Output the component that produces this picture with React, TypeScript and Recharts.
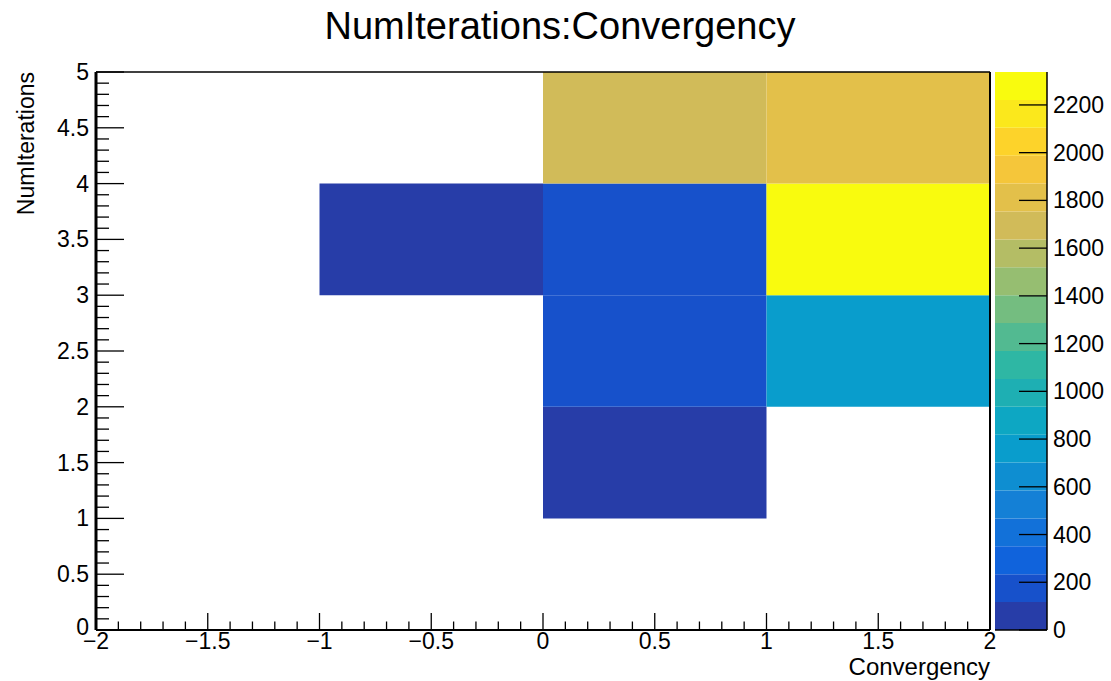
import React from "react";
import {
  ComposedChart,
  XAxis,
  YAxis,
  ReferenceArea,
  ReferenceLine,
  Scatter,
  Label,
} from "recharts";

// ---- data ----
const cellXLow = [0, -1, 0, 0, 0, 1, 1, 1];
const cellYLow = [1, 3, 2, 3, 4, 2, 3, 4];
const cellCounts = [45, 60, 185, 195, 1700, 770, 2338, 1810];
const binWidth = 1;

const zMax = 2338;
const paletteTicks = [0, 200, 400, 600, 800, 1000, 1200, 1400, 1600, 1800, 2000, 2200];
const paletteColors = [
  "#273DA8", "#1751CB", "#1063DC", "#1271D9", "#1480D6",
  "#0E8ED1", "#099DCC", "#0DA7C3", "#1EAFB3", "#2EB7A4",
  "#52BA91", "#74BD80", "#96BE71", "#B4BD65", "#D1BB59",
  "#E3C04A", "#F5C63A", "#FDD32A", "#FBE81C", "#F9FB0E",
];

const xTickTenths = Array.from({ length: 41 }, (_, i) => (i - 20) / 10);
const yTickTenths = Array.from({ length: 51 }, (_, i) => i / 10);

const FONT = "'Liberation Sans', Arial, Helvetica, sans-serif";
const W = 1111;
const H = 681;

const cells = cellXLow.map((x, i) => ({
  x0: x,
  x1: x + binWidth,
  y0: cellYLow[i],
  y1: cellYLow[i] + binWidth,
  cx: x + binWidth / 2,
  cy: cellYLow[i] + binWidth / 2,
  z: cellCounts[i],
}));

const bands = paletteColors.map((col, i) => ({
  px: 0.5,
  lo: (i * zMax) / paletteColors.length,
  hi: ((i + 1) * zMax) / paletteColors.length,
  mid: ((i + 0.5) * zMax) / paletteColors.length,
  col,
}));

const levelColor = (z: number) => {
  const n = paletteColors.length;
  const lvl = Math.min(n - 1, Math.floor((z / zMax) * n));
  return paletteColors[lvl];
};

const fmt = (v: number) => {
  const r = Math.round(v * 10) / 10;
  const s = String(Math.abs(r));
  return r < 0 ? "\u2212" + s : s;
};

const isMajor = (v: number) => Math.round(v * 10) % 5 === 0;

const XTick = (props: any) => {
  const { x, y, payload } = props;
  const v = payload.value as number;
  const major = isMajor(v);
  return (
    <g>
      <line x1={x} x2={x} y1={y} y2={y - (major ? 17 : 8.5)} stroke="#000" strokeWidth={1.3} />
      {major && (
        <text x={x} y={y + 19} textAnchor="middle" fontSize={23} fontFamily={FONT} fill="#000">
          {fmt(v)}
        </text>
      )}
    </g>
  );
};

const YTick = (props: any) => {
  const { x, y, payload } = props;
  const v = payload.value as number;
  const major = isMajor(v);
  return (
    <g>
      <line x1={x} x2={x + (major ? 28 : 13)} y1={y} y2={y} stroke="#000" strokeWidth={1.3} />
      {major && (
        <text x={x - 7} y={y + (v === 0 ? 5 : 8)} textAnchor="end" fontSize={23} fontFamily={FONT} fill="#000">
          {fmt(v)}
        </text>
      )}
    </g>
  );
};

const PTick = (props: any) => {
  const { x, y, payload } = props;
  return (
    <g>
      <line x1={x - 28} x2={x} y1={y} y2={y} stroke="#000" strokeWidth={1.3} />
      <text x={x + 6} y={y + 8} textAnchor="start" fontSize={23} fontFamily={FONT} fill="#000">
        {payload.value}
      </text>
    </g>
  );
};

export default function App() {
  return (
    <div style={{ position: "absolute", left: 0, top: 0, width: W, height: H, background: "#fff" }}>
      <div
        style={{
          position: "absolute",
          left: 0,
          top: 7,
          width: 1120,
          textAlign: "center",
          fontFamily: FONT,
          fontSize: 38,
          lineHeight: "38px",
          color: "#000",
          whiteSpace: "nowrap",
        }}
      >
        NumIterations:Convergency
      </div>
      <div style={{ position: "absolute", left: 0, top: 0 }}>
        <ComposedChart width={W} height={H} margin={{ top: 72, right: 121, left: 0, bottom: 0 }}>
          <XAxis
            type="number"
            dataKey="cx"
            domain={[-2, 2]}
            allowDataOverflow
            ticks={xTickTenths}
            interval={0}
            tickSize={0}
            tickMargin={0}
            tickLine={false}
            tick={<XTick />}
            axisLine={{ stroke: "#000", strokeWidth: 2 }}
            height={51}
          >
            <Label
              content={(p: any) => {
                const vb = p.viewBox;
                return (
                  <text x={vb.x + vb.width} y={675} textAnchor="end" fontSize={24} fontFamily={FONT} fill="#000">
                    Convergency
                  </text>
                );
              }}
            />
          </XAxis>
          <YAxis
            type="number"
            dataKey="cy"
            domain={[0, 5]}
            allowDataOverflow
            ticks={yTickTenths}
            interval={0}
            tickSize={0}
            tickMargin={0}
            tickLine={false}
            tick={<YTick />}
            axisLine={{ stroke: "#000", strokeWidth: 3 }}
            width={96}
          >
            <Label
              content={(p: any) => {
                const vb = p.viewBox;
                return (
                  <text
                    x={34}
                    y={vb.y}
                    transform={`rotate(-90, 34, ${vb.y})`}
                    textAnchor="end"
                    fontSize={23}
                    fontFamily={FONT}
                    fill="#000"
                  >
                    NumIterations
                  </text>
                );
              }}
            />
          </YAxis>
          {cells.map((c, i) => (
            <ReferenceArea
              key={i}
              x1={c.x0}
              x2={c.x1}
              y1={c.y0}
              y2={c.y1}
              fill={levelColor(c.z)}
              fillOpacity={1}
              stroke="none"
              ifOverflow="visible"
            />
          ))}
          <ReferenceLine y={5} stroke="#000" strokeWidth={1.5} ifOverflow="visible" />
          <ReferenceLine x={2} stroke="#000" strokeWidth={2} ifOverflow="visible" />
          <Scatter data={cells} isAnimationActive={false} shape={() => <g />} />
        </ComposedChart>
      </div>
      <div style={{ position: "absolute", left: 995, top: 0 }}>
        <ComposedChart width={116} height={H} margin={{ top: 72, right: 0, left: 0, bottom: 51 }}>
          <XAxis type="number" dataKey="px" domain={[0, 1]} allowDataOverflow hide />
          <YAxis
            orientation="right"
            type="number"
            dataKey="mid"
            domain={[0, zMax]}
            allowDataOverflow
            ticks={paletteTicks}
            interval={0}
            tickSize={0}
            tickMargin={0}
            tickLine={false}
            tick={<PTick />}
            axisLine={{ stroke: "#000", strokeWidth: 1.5 }}
            width={64}
          />
          {bands.map((b, i) => (
            <ReferenceArea
              key={i}
              x1={0}
              x2={1}
              y1={b.lo}
              y2={b.hi}
              fill={b.col}
              fillOpacity={1}
              stroke="none"
              ifOverflow="visible"
            />
          ))}
          <ReferenceLine y={0} stroke="#000" strokeWidth={1.5} ifOverflow="visible" />
          <Scatter data={bands} isAnimationActive={false} shape={() => <g />} />
        </ComposedChart>
      </div>
    </div>
  );
}
